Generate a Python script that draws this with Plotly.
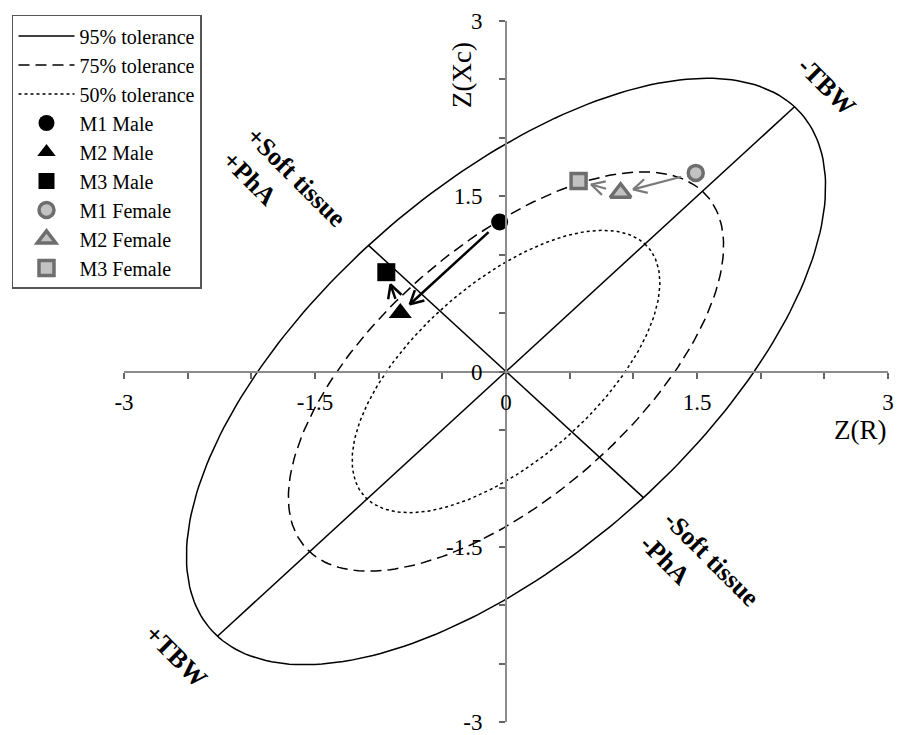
import numpy as np
import plotly.graph_objects as go

# Z-scores
measures = ["M1", "M2", "M3"]
male_zr = [-0.05, -0.83, -0.94]
male_zxc = [1.28, 0.50, 0.85]
female_zr = [1.49, 0.90, 0.57]
female_zxc = [1.70, 1.53, 1.63]

# tolerance ellipses (correlation R-Xc and T^2 per level)
r_corr = 0.63
tol_names = ["95% tolerance", "75% tolerance", "50% tolerance"]
tol_t2 = [6.30, 2.92, 1.46]
tol_dash = ["solid", "11px,6px", "3px,3px"]

x_ticks = [-3, -1.5, 0, 1.5, 3]
y_ticks = [-3, -1.5, 0, 1.5, 3]
tick_text = ["-3", "-1.5", "0", "1.5", "3"]

FONT = "Liberation Serif"
GREY = "#7a7a7a"

# figure is drawn inside the page body (8px default margin)
W, H = 896, 727
ML, MR, MT, MB = 116, 16, 13, 13
sx = (W - ML - MR) / 6.0
sy = (H - MT - MB) / 6.0


def ellipse(t2, n=240):
    t = np.linspace(0, 2 * np.pi, n)
    a = np.sqrt(t2 * (1 + r_corr))
    b = np.sqrt(t2 * (1 - r_corr))
    x = (a * np.cos(t) + b * np.sin(t)) / np.sqrt(2)
    y = (a * np.cos(t) - b * np.sin(t)) / np.sqrt(2)
    return x, y


def arrow(p0, p1, color, width, gap0=15, gap1=13, head=15, ang=28):
    dx = (p1[0] - p0[0]) * sx
    dy = (p1[1] - p0[1]) * sy
    L = np.hypot(dx, dy)
    ux, uy = dx / L, dy / L
    x0 = p0[0] + gap0 * ux / sx
    y0 = p0[1] + gap0 * uy / sy
    x1 = p1[0] - gap1 * ux / sx
    y1 = p1[1] - gap1 * uy / sy
    hx, hy = [], []
    for s in (1, -1):
        a = np.radians(ang) * s
        rx = ux * np.cos(a) - uy * np.sin(a)
        ry = ux * np.sin(a) + uy * np.cos(a)
        hx.append(x1 - head * rx / sx)
        hy.append(y1 - head * ry / sy)
    shaft = go.Scatter(x=[x0, x1], y=[y0, y1], mode="lines",
                       line=dict(color=color, width=width), showlegend=False, hoverinfo="skip")
    tip = go.Scatter(x=[hx[0], x1, hx[1]], y=[hy[0], y1, hy[1]], mode="lines",
                     line=dict(color=color, width=width), showlegend=False, hoverinfo="skip")
    return [shaft, tip]


fig = go.Figure()

for name, t2, dash in zip(tol_names, tol_t2, tol_dash):
    ex, ey = ellipse(t2)
    fig.add_trace(go.Scatter(x=ex, y=ey, mode="lines", name=name,
                             line=dict(color="black", width=1.5, dash=dash)))

# major and minor axes of the 95% ellipse
a95 = np.sqrt(tol_t2[0] * (1 + r_corr)) / np.sqrt(2)
b95 = np.sqrt(tol_t2[0] * (1 - r_corr)) / np.sqrt(2)
fig.add_trace(go.Scatter(x=[-a95, a95], y=[-a95, a95], mode="lines",
                         line=dict(color="black", width=1.5), showlegend=False))
fig.add_trace(go.Scatter(x=[-b95, b95], y=[b95, -b95], mode="lines",
                         line=dict(color="black", width=1.5), showlegend=False))

# arrows M1 -> M2 -> M3
for i in range(2):
    for tr in arrow((male_zr[i], male_zxc[i]), (male_zr[i + 1], male_zxc[i + 1]), "black", 2.5):
        fig.add_trace(tr)
    for tr in arrow((female_zr[i], female_zxc[i]), (female_zr[i + 1], female_zxc[i + 1]), GREY, 2.2):
        fig.add_trace(tr)

male_sym = [("circle", 17), ("triangle-up", 20), ("square", 18)]
for i, m in enumerate(measures):
    fig.add_trace(go.Scatter(x=[male_zr[i]], y=[male_zxc[i]], mode="markers", name=m + " Male",
                             marker=dict(symbol=male_sym[i][0], size=male_sym[i][1], color="black")))
female_sym = [("circle", 15), ("triangle-up", 18), ("square", 15)]
for i, m in enumerate(measures):
    fig.add_trace(go.Scatter(x=[female_zr[i]], y=[female_zxc[i]], mode="markers", name=m + " Female",
                             marker=dict(symbol=female_sym[i][0], size=female_sym[i][1], color="#c2c2c2",
                                         line=dict(color="#6e6e6e", width=3.5))))

axis_common = dict(range=[-3, 3], anchor="free", position=0.5, showgrid=False, zeroline=False,
                   showline=True, linecolor="#8c8c8c", linewidth=2, ticks="outside", ticklen=6,
                   tickcolor="#666", tickwidth=1.5, tickfont=dict(family=FONT, size=23, color="black"),
                   ticklabeloverflow="allow",
                   minor=dict(ticks="outside", dtick=0.5, tick0=0, ticklen=6, tickcolor="#666",
                              tickwidth=1.5, showgrid=False))
fig.update_xaxes(tickvals=x_ticks, ticktext=tick_text, ticklabelstandoff=4, **axis_common)
fig.update_yaxes(tickvals=y_ticks, ticktext=tick_text, ticklabelstandoff=12, **axis_common)

lab = dict(family=FONT, size=26, color="black")
ctr = dict(xanchor="center", yanchor="middle", showarrow=False)
fig.add_annotation(text="Z(R)", xref="paper", yref="paper", x=1.0, y=0.4165,
                   xanchor="right", yanchor="middle", showarrow=False, font=dict(family=FONT, size=27))
fig.add_annotation(text="Z(Xc)", xref="paper", yref="paper", x=0.4424, y=0.923,
                   textangle=-90, font=dict(family=FONT, size=27), **ctr)
fig.add_annotation(text="<b>-TBW</b>", x=2.52, y=2.44, textangle=45, font=lab, **ctr)
fig.add_annotation(text="<b>+TBW</b>", x=-2.59, y=-2.44, textangle=45, font=lab, **ctr)
fig.add_annotation(text="<b>+Soft tissue</b><br><b>+PhA</b>", x=-1.74, y=1.56, textangle=45,
                   align="left", font=lab, **ctr)
fig.add_annotation(text="<b>-Soft tissue</b><br><b>-PhA</b>", x=1.52, y=-1.70, textangle=45,
                   align="left", font=lab, **ctr)

fig.update_layout(
    width=W, height=H, margin=dict(l=ML, r=MR, t=MT, b=MB, autoexpand=False),
    plot_bgcolor="white", paper_bgcolor="white",
    font=dict(family=FONT, color="black"),
    legend=dict(x=-0.1466, y=1.0086, xanchor="left", yanchor="top", bgcolor="white",
                bordercolor="#555", borderwidth=1.5, itemwidth=56,
                font=dict(family=FONT, size=20, color="black")),
)

fig.write_html("out.html")
